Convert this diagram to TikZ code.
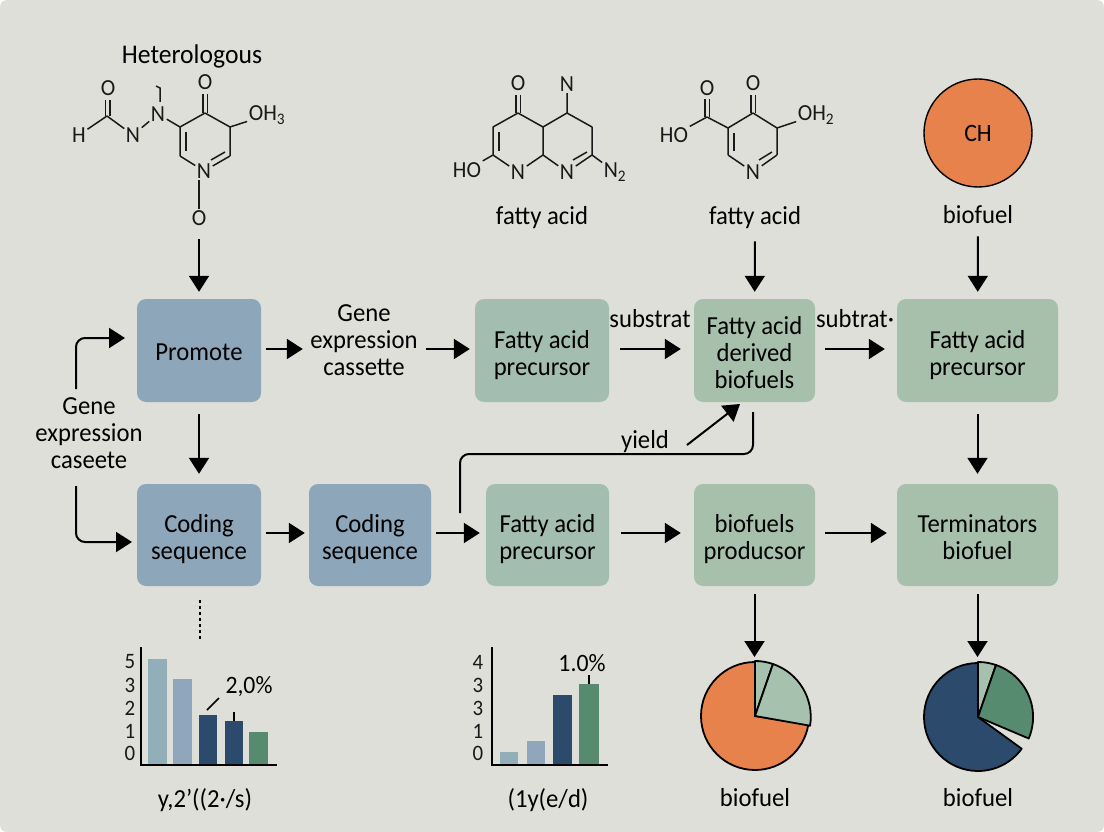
\documentclass[tikz,border=0pt]{standalone}
\usepackage{fontspec}
\setmainfont[FakeStretch=.95]{Carlito}
\usetikzlibrary{arrows.meta,calc}
\definecolor{bgcol}{HTML}{DFDFDA}
\definecolor{bluebox}{HTML}{8EA6BA}
\definecolor{tealbox}{HTML}{A3BDB1}
\definecolor{greenbox}{HTML}{A6C0AC}
\definecolor{navy}{HTML}{2B4A6C}
\definecolor{leaf}{HTML}{568B6F}
\definecolor{paleleaf}{HTML}{A6C2AE}
\definecolor{orng}{HTML}{E8824D}
\definecolor{barpale}{HTML}{92AEB9}
\definecolor{barblue}{HTML}{8FA6BD}
\tikzset{flow/.style={-{Triangle[length=16pt,width=20pt]},line width=2pt,black},
         link/.style={line width=2pt,black,rounded corners=9pt},
         bond/.style={line width=1.5pt,black!90},
         atom/.style={inner sep=1.5pt,font=\fontsize{23}{25}\selectfont,text=black!90},
         lab/.style={inner sep=0pt,align=center,font=\fontsize{26}{27}\selectfont,text=black},
         drop/.style={execute at begin node=\rule{0pt}{#1}},
         box/.style={rounded corners=9pt,inner sep=0pt,align=center,minimum height=103pt,
           font=\fontsize{26}{27}\selectfont,text=black},
         tick/.style={inner sep=0pt,font=\fontsize{22}{24}\selectfont,text=black!90},
         slice/.style={draw=black,line width=1.8pt,line join=round}}
\begin{document}
\begin{tikzpicture}[x=1pt,y=-1pt]
  \useasboundingbox (0,0) rectangle (1104,832);
  \fill[white] (0,0) rectangle (1104,832);
  \fill[bgcol,rounded corners=7pt] (0,0) rectangle (1104,832);

  % first molecule
  \node[lab,font=\fontsize{27}{27}\selectfont] (hetero) at (192,56) {Heterologous};
  \node[atom] (a1o) at (108,88) {O};
  \node[atom] (a1h) at (79,135) {H};
  \node[atom] (a1n) at (133,135) {N};
  \node[atom] (a1m) at (158,114) {N};
  \node[atom] (a1t) at (205,82) {O};
  \node[atom] (a1r) at (267,115) {OH\textsubscript{3}};
  \node[atom] (a1p) at (204,171) {N};
  \node[atom] (a1x) at (199,218) {O};
  \coordinate (a1c) at (107,116);
  \coordinate (a1a) at (180,127);
  \coordinate (a1b) at (205,113);
  \coordinate (a1d) at (230,127);
  \coordinate (a1e) at (230,156);
  \coordinate (a1f) at (180,156);
  \draw[bond] (a1c)--(a1h) (a1c)--(a1n) (a1n)--(a1m) (a1m)--(a1a) (a1a)--(a1b) (a1b)--(a1d)
    (a1d)--(a1r) (a1d)--(a1e) (a1e)--(a1p) (a1p)--(a1f) (a1f)--(a1a);
  \draw[bond] (a1x.north)--(a1x.north|-a1p.south);
  \draw[bond] (105.5,116)--(105.5,100) (110,116)--(110,100);
  \draw[bond] (203,113)--(203,94) (207.5,113)--(207.5,94);
  \draw[bond] (186,132)--(186,151);
  \draw[bond] (225,152)--(211,160);
  \draw[bond] (160,102)--(160,88)--(156,86);

  % second molecule
  \node[atom] (a2o) at (518,83) {O};
  \node[atom] (a2n) at (567,84) {N};
  \node[atom] (a2h) at (467,170) {HO};
  \node[atom] (a2p) at (518,172) {N};
  \node[atom] (a2q) at (567,172) {N};
  \node[atom] (a2s) at (615,172) {N\textsubscript{2}};
  \node[lab] (fatty1) at (542,218) {fatty acid};
  \coordinate (a2a) at (518,113);
  \coordinate (a2b) at (493,127);
  \coordinate (a2c) at (493,155);
  \coordinate (a2d) at (543,155);
  \coordinate (a2e) at (543,127);
  \coordinate (a2f) at (567,113);
  \coordinate (a2g) at (592,127);
  \coordinate (a2i) at (592,155);
  \draw[bond] (a2a)--(a2b) (a2b)--(a2c) (a2c)--(a2h) (a2c)--(a2p) (a2p)--(a2d) (a2d)--(a2e)
    (a2e)--(a2a) (a2e)--(a2f) (a2f)--(a2n) (a2f)--(a2g) (a2g)--(a2i) (a2i)--(a2q)
    (a2q)--(a2d) (a2i)--(a2s);
  \draw[bond] (516,113)--(516,95) (520.5,113)--(520.5,95);
  \draw[bond] (499,132)--(499,151);
  \draw[bond] (587,152)--(573,160);

  % third molecule
  \node[atom] (a3o) at (707,88) {O};
  \node[atom] (a3h) at (674,135) {HO};
  \node[atom] (a3t) at (753,83) {O};
  \node[atom] (a3r) at (816,115) {OH\textsubscript{2}};
  \node[atom] (a3p) at (753,172) {N};
  \node[lab] (fatty2) at (755,218) {fatty acid};
  \coordinate (a3c) at (707,117);
  \coordinate (a3a) at (728,128);
  \coordinate (a3b) at (753,113);
  \coordinate (a3d) at (777,128);
  \coordinate (a3e) at (777,155);
  \coordinate (a3f) at (728,155);
  \draw[bond] (a3c)--(a3h) (a3c)--(a3a) (a3a)--(a3b) (a3b)--(a3d) (a3d)--(a3r) (a3d)--(a3e)
    (a3e)--(a3p) (a3p)--(a3f) (a3f)--(a3a);
  \draw[bond] (705,117)--(705,99) (709.5,117)--(709.5,99);
  \draw[bond] (751,113)--(751,95) (755.5,113)--(755.5,95);
  \draw[bond] (734,133)--(734,151);
  \draw[bond] (772,152)--(759,160);

  \node[circle,draw=black,line width=1.4pt,fill=orng,minimum size=108pt,inner sep=0pt,
    font=\fontsize{25}{27}\selectfont] (ch) at (978,133) {CH};
  \node[lab] (fuel0) at (978,215) {biofuel};

  % boxes
  \node[box,fill=bluebox,minimum width=124pt,drop=21pt] (promote) at (199,350.5) {Promote};
  \node[box,fill=bluebox,minimum width=124pt,minimum height=102pt,drop=54pt] (code1) at (199,535) {Coding\\sequence};
  \node[box,fill=bluebox,minimum width=122pt,minimum height=102pt,drop=54pt] (code2) at (370,535) {Coding\\sequence};
  \node[lab,minimum width=112pt] (cassette) at (364,340) {Gene\\expression\\cassette};
  \node[lab] (gene) at (89,433) {Gene\\expression\\caseete};
  \node[box,fill=tealbox,minimum width=134pt,drop=54pt] (prec1) at (542,350.5) {Fatty acid\\precursor};
  \node[box,fill=greenbox,minimum width=121pt,drop=77pt] (derived) at (754.5,350.5) {Fatty acid\\derived\\biofuels};
  \node[box,fill=greenbox,minimum width=161pt,drop=54pt] (prec2) at (977.5,350.5) {Fatty acid\\precursor};
  \node[box,fill=tealbox,minimum width=123pt,minimum height=102pt,drop=54pt] (prec3) at (547.5,535) {Fatty acid\\precursor};
  \node[box,fill=greenbox,minimum width=121pt,minimum height=102pt,drop=54pt] (prod) at (754.5,535) {biofuels\\producsor};
  \node[box,fill=greenbox,minimum width=161pt,minimum height=102pt,drop=50pt] (term) at (977.5,535) {Terminators\\biofuel};
  \node[lab] (sub1) at (650,319) {substrat};
  \node[lab] (sub2) at (855,319) {subtrat·};
  \node[lab] (yield) at (645,442) {yield};

  % connectors
  \draw[flow,shorten >=7pt,shorten <=12pt] (a1x)--(promote);
  \draw[flow,shorten >=7pt,shorten <=12pt] (fatty2)--(derived);
  \draw[flow,shorten >=7pt,shorten <=12pt] (fuel0)--(prec2);
  \draw[flow,shorten >=5pt,shorten <=5pt] ([yshift=1.5pt]promote.east)--([yshift=1.5pt]cassette.west|-promote);
  \draw[flow,shorten >=5pt,shorten <=6pt] ([yshift=1.5pt]cassette.east|-promote)--([yshift=1.5pt]prec1.west);
  \draw[flow,shorten >=13pt,shorten <=11pt] ([yshift=1.5pt]prec1.east)--([yshift=1.5pt]derived.west);
  \draw[flow,shorten >=12pt,shorten <=10pt] ([yshift=1.5pt]derived.east)--([yshift=1.5pt]prec2.west);
  \draw[flow,shorten >=10pt,shorten <=12pt] (promote)--(code1);
  \draw[flow,shorten >=10pt,shorten <=12pt] (prec2)--(term);
  \draw[flow,shorten >=4pt,shorten <=5pt] ([yshift=2pt]code1.east)--([yshift=2pt]code2.west);
  \draw[flow,shorten >=6pt,shorten <=5pt] ([yshift=2pt]code2.east)--([yshift=2pt]prec3.west);
  \draw[flow,shorten >=13pt,shorten <=12pt] ([yshift=2pt]prec3.east)--([yshift=2pt]prod.west);
  \draw[flow,shorten >=10pt,shorten <=10pt] ([yshift=2pt]prod.east)--([yshift=2pt]term.west);
  \draw[flow,shorten >=6pt,shorten <=8pt] (prod)--($(prod)+(0,128)$);
  \draw[flow,shorten >=6pt,shorten <=8pt] (term)--($(term)+(0,128)$);

  \coordinate (genetop) at (76,389);
  \coordinate (promin) at (125,338);
  \coordinate (genebot) at (76,486);
  \coordinate (codein) at (132,542);
  \coordinate (loopa) at (460,513);
  \coordinate (loopb) at (753,412);
  \coordinate (yielda) at (687,445);
  \coordinate (yieldb) at (740,404);
  \draw[flow,rounded corners=9pt] (genetop)|-(promin);
  \draw[flow,rounded corners=9pt] (genebot)|-(codein);
  \draw[link] (loopa)--(460,454)--(753,454)--(loopb);
  \draw[flow] (yielda)--(yieldb);

  % left bar chart
  \draw[black,line width=2.5pt,dash pattern=on 2.5pt off 3.5pt] (200,600)--(200,640);
  \fill[barpale] (148,765) rectangle (167,659);
  \fill[barblue] (173,765) rectangle (192,679);
  \fill[navy] (199,765) rectangle (217,715);
  \fill[navy] (225,765) rectangle (243,721);
  \fill[leaf] (249,765) rectangle (268,732);
  \draw[black,line width=1.5pt] (141,647)|-(277,765);
  \draw[black,line width=1.5pt] (207,710)--(219,698);
  \draw[black,line width=1.5pt] (234,712)--(234,721);
  \node[tick] (t15) at (130,662) {5};
  \node[tick] (t13) at (130,685) {3};
  \node[tick] (t12) at (130,708) {2};
  \node[tick] (t11) at (130,731) {1};
  \node[tick] (t10) at (130,753) {0};
  \node[lab,font=\fontsize{25}{27}\selectfont] (pct1) at (249,687) {2,0\%};
  \node[lab] (xlab1) at (205,800) {y,2'((2·/s)};

  % right bar chart
  \fill[barpale] (500,765) rectangle (518,752);
  \fill[barblue] (527,765) rectangle (545,741);
  \fill[navy] (553,765) rectangle (572,695);
  \fill[leaf] (579,765) rectangle (599,684);
  \draw[black,line width=1.5pt] (492,647)|-(608,765);
  \draw[black,line width=1.5pt] (589,675)--(589,684);
  \node[tick] (t24) at (478,662) {4};
  \node[tick] (t23) at (478,685) {3};
  \node[tick] (t22) at (478,708) {3};
  \node[tick] (t21) at (478,731) {1};
  \node[tick] (t20) at (478,753) {0};
  \node[lab,font=\fontsize{25}{27}\selectfont] (pct2) at (582,663) {1.0\%};
  \node[lab] (xlab2) at (548,800) {(1y(e/d)};

  % pies
  \draw[slice,fill=orng] (755,716)--(755,662) arc (-90:-351:54)--cycle;
  \draw[slice,fill=paleleaf] (755,716)--(755,661) arc (-90:-71:55)--cycle;
  \draw[slice,fill=paleleaf] (755,716)--(773,664) arc (-71:9:56)--cycle;
  \node[lab] (fuel1) at (755,798) {biofuel};
  \draw[slice,fill=navy] (978,717)--(978,663) arc (-90:-324:54)--cycle;
  \draw[slice,fill=paleleaf] (978,717)--(978,662) arc (-90:-71:55)--cycle;
  \draw[slice,fill=leaf] (978,717)--(996,665) arc (-71:23:55)--cycle;
  \node[lab] (fuel2) at (978,798) {biofuel};
\end{tikzpicture}
\end{document}
